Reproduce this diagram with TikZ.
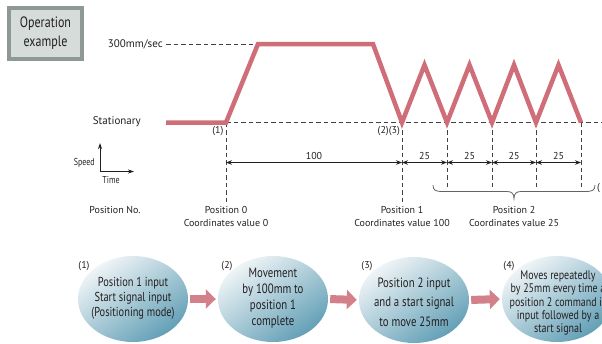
\documentclass[tikz,border=0pt]{standalone}
\usepackage{fontspec}
\setmainfont{PT Sans}
\newfontfamily\cond[FakeStretch=0.8]{PT Sans}
\usetikzlibrary{arrows.meta,shapes.geometric}
\definecolor{curve}{HTML}{CF6E78}
\definecolor{farrow}{HTML}{D4808A}
\definecolor{ellA}{HTML}{F0F5F7}
\definecolor{ellB}{HTML}{629FB6}
\definecolor{boxout}{HTML}{8E9894}
\definecolor{boxin}{HTML}{D6DCD9}
\definecolor{ink}{HTML}{231F20}
\tikzset{
  lbl/.style={font=\fontsize{10}{12}\selectfont, text=ink, inner sep=0pt},
  dashref/.style={draw=ink!85, line width=0.6pt, dash pattern=on 4.5pt off 3pt},
  dimline/.style={draw=ink, line width=1pt, {Stealth[length=6pt,width=4.5pt]}-{Stealth[length=6pt,width=4.5pt]}},
  bubble/.style={ellipse, minimum width=110pt, minimum height=86pt, inner sep=0pt,
     shading=axis, top color=ellA, bottom color=ellB, shading angle=35},
  btext/.style={align=center, text=ink, inner sep=0pt, font=\cond\fontsize{13}{15}\selectfont},
  fat/.style={draw=farrow, line width=8pt, -{Triangle[length=10pt,width=19pt]}, shorten <=2pt, shorten >=2pt},
  num/.style={font=\fontsize{10}{12}\selectfont, text=ink, inner sep=0pt},
}
\begin{document}
\begin{tikzpicture}[x=1pt,y=-1pt]
\useasboundingbox (0,0) rectangle (602,343);
\clip (0,0) rectangle (602,343);

% Operation example box
\node (opbox) [fill=boxin, draw=boxout, line width=4pt, minimum width=73pt, minimum height=51pt,
  align=center, text=ink, font=\cond\fontsize{15}{19}\selectfont, inner sep=0pt] at (45.5,33.5) {Operation\\example};

% speed profile coordinates
\coordinate (s0) at (166,122.5);
\coordinate (p1) at (226,122.5);
\coordinate (t1) at (258,44);
\coordinate (t2) at (373,44);
\coordinate (p2) at (402,122.5);
\coordinate (k1) at (424.5,65);
\coordinate (v1) at (447,122.5);
\coordinate (k2) at (469.5,65);
\coordinate (v2) at (492,122.5);
\coordinate (k3) at (514,65);
\coordinate (v3) at (536,122.5);
\coordinate (k4) at (558.5,65);
\coordinate (v4) at (581,122.5);
\coordinate (rend) at (602,122.5);

\node (vmax) [lbl, anchor=east, font=\fontsize{11}{13}\selectfont] at (163,44) {300mm/sec};
\node (stat) [lbl, anchor=east, font=\fontsize{11}{13}\selectfont] at (141,122) {Stationary};

% dashed reference lines
\draw[dashref] (vmax.east) ++(3,0) -- (t1);
\draw[dashref] (p1) -- (rend);
\draw[dashref] (p1) -- (226,202);
\draw[dashref] (p2) -- (402,202);
\draw[dashref] (v1) -- (447,188);
\draw[dashref] (v2) -- (492,188);
\draw[dashref] (v3) -- (536,188);
\draw[dashref] (v4) -- (581,188);

% profile
\draw[curve, line width=4.5pt, line join=miter, miter limit=4]
  (s0) -- (p1) -- (t1) -- (t2) -- (p2) -- (k1) -- (v1) -- (k2) -- (v2) -- (k3) -- (v3) -- (k4) -- (v4);

\node (l1) [lbl, anchor=east] at (223.5,131) {(1)};
\node (l23) [lbl, anchor=east] at (400,131) {(2)(3)};

% axis legend
\coordinate (ax0) at (100,171.5);
\draw[ink, line width=1pt, -{Stealth[length=6pt,width=4pt]}] (ax0) -- (100,143);
\draw[ink, line width=1pt, -{Stealth[length=6pt,width=4pt]}] (ax0) -- (134,171.5);
\node (speed) [anchor=east, text=ink, inner sep=0pt, font=\cond\fontsize{10}{12}\selectfont] at (95,163) {Speed};
\node (time) [anchor=center, text=ink, inner sep=0pt, font=\cond\fontsize{10}{12}\selectfont] at (111,180) {Time};

% dimensions
\coordinate (d0) at (226,162.5);
\coordinate (d1) at (402,162.5);
\coordinate (d2) at (447,162.5);
\coordinate (d3) at (492,162.5);
\coordinate (d4) at (536,162.5);
\coordinate (d5) at (581,162.5);
\draw[dimline] (d0) -- (d1);
\draw[dimline] (d1) -- (d2);
\draw[dimline] (d2) -- (d3);
\draw[dimline] (d3) -- (d4);
\draw[dimline] (d4) -- (d5);
\node (n100) [num] at (314,155.5) {100};
\node (n25a) [num] at (424.5,156) {25};
\node (n25b) [num] at (469.5,156) {25};
\node (n25c) [num] at (514,156) {25};
\node (n25d) [num] at (558.5,156) {25};

% brace
\draw[ink!70, line width=0.8pt]
  (433,185) .. controls (433,190.5) and (436,191.5) .. (442,191.5) -- (507,191.5)
  .. controls (511.5,191.5) and (514,193.5) .. (514,198.5)
  .. controls (514,193.5) and (516.5,191.5) .. (521,191.5) -- (586,191.5)
  .. controls (592,191.5) and (595,190.5) .. (595,185);
\node (paren) [lbl, anchor=west] at (597,188) {(};

% position labels
\node (posno) [lbl] at (115,210) {Position No.};
\node (pos0) [lbl, align=center, font=\fontsize{10}{13}\selectfont] at (226,216.5) {Position 0\\Coordinates value 0};
\node (pos1) [lbl, align=center, font=\fontsize{10}{13}\selectfont] at (402,216.5) {Position 1\\Coordinates value 100};
\node (pos2) [lbl, align=center, font=\fontsize{10}{13}\selectfont] at (514,216.5) {Position 2\\Coordinates value 25};

% bubbles
\node (e1) [bubble] at (133,299) {};
\node (e2) [bubble] at (273,299) {};
\node (e3) [bubble] at (414,300) {};
\node (e4) [bubble] at (557,299) {};
\node (e1t) [btext] at (133,298) {Position 1 input\\Start signal input\\(Positioning mode)};
\node (e2t) [btext, font=\cond\fontsize{13.5}{16}\selectfont] at (273,298) {Movement\\by 100mm to\\position 1\\complete};
\node (e3t) [btext, font=\cond\fontsize{13.5}{19.5}\selectfont] at (414,302) {Position 2 input\\and a start signal\\to move 25mm};
\node (e4t) [btext, font=\cond\fontsize{12.5}{13.3}\selectfont] at (558,303) {Moves repeatedly\\by 25mm every time a\\position 2 command is\\input followed by a\\start signal};

\node (c1) [lbl, font=\fontsize{10}{12}\selectfont] at (84,266) {(1)};
\node (c2) [lbl, font=\fontsize{10}{12}\selectfont] at (227,266) {(2)};
\node (c3) [lbl, font=\fontsize{10}{12}\selectfont] at (367,266) {(3)};
\node (c4) [lbl, font=\fontsize{10}{12}\selectfont] at (509,266) {(4)};

\draw[fat] (e1.east) -- (e2.west);
\draw[fat] (e2.east) -- (e3.west);
\draw[fat] (e3.east) -- (e4.west);
\end{tikzpicture}
\end{document}
